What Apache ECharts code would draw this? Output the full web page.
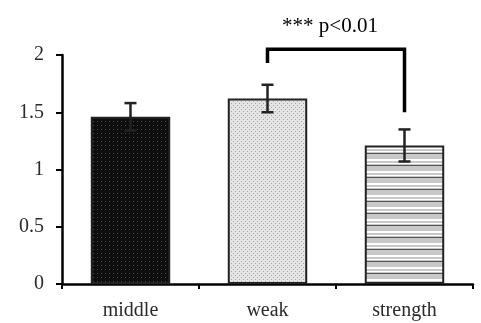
<!DOCTYPE html>
<html><head><meta charset="utf-8">
<script src="https://cdn.jsdelivr.net/npm/echarts@6/dist/echarts.min.js"></script>
<style>html,body{margin:0;padding:0;background:#fff}#c{width:481px;height:323px}</style>
</head><body><div id="c"></div>
<script>
const categories = ['middle', 'weak', 'strength'];
const means = [1.46, 1.62, 1.21];
const errors = [0.12, 0.12, 0.14];
const yTicks = [0, 0.5, 1, 1.5, 2];
const sigPair = [1, 2];
const sigLevels = [2.05, 1.93, 1.50];
const sigText = '*** p<0.01';

function pat(draw, w, h) {
  const c = document.createElement('canvas'); c.width = w; c.height = h;
  const g = c.getContext('2d'); draw(g); return c;
}
const patMiddle = pat(g => {
  g.fillStyle = '#0d0d0d'; g.fillRect(0,0,4,4);
  g.fillStyle = '#4a4a4a'; g.fillRect(1,1,1,1);
}, 4, 4);
const patWeak = pat(g => {
  g.fillStyle = '#e4e4e4'; g.fillRect(0,0,4,4);
  g.fillStyle = '#a8a8a8'; g.fillRect(1,1,1,1); g.fillRect(3,3,1,1);
}, 4, 4);
const patStrength = pat(g => {
  g.fillStyle = '#c8c8c8'; g.fillRect(0,0,4,12);
  g.fillStyle = '#fff'; g.fillRect(0,3,4,2);
  g.fillStyle = '#555'; g.fillRect(0,9,4,1);
  g.fillStyle = '#fff'; g.fillRect(0,7,4,1);
}, 4, 12);
const patterns = [patMiddle, patWeak, patStrength];

const chart = echarts.init(document.getElementById('c'), null, {renderer: 'canvas'});
const font = 'Liberation Serif';
chart.setOption({
  animation: false,
  grid: {left: 62, right: 8, top: 55, bottom: 39},
  xAxis: {
    type: 'category', data: categories,
    axisLine: {lineStyle: {color: '#000', width: 2.5}},
    axisTick: {show: true, length: 5, lineStyle: {color: '#000', width: 2}},
    axisLabel: {color: '#2a2a2a', fontFamily: font, fontSize: 20, margin: 17}
  },
  yAxis: {
    type: 'value', min: 0, max: 2, interval: 0.5,
    axisLine: {show: true, lineStyle: {color: '#000', width: 2.5}},
    axisTick: {show: true, length: 6, lineStyle: {color: '#000', width: 2}},
    splitLine: {show: false},
    axisLabel: {color: '#2a2a2a', fontFamily: font, fontSize: 20, margin: 18,
      formatter: v => yTicks.includes(v) ? String(v) : ''}
  },
  series: [
    {
      type: 'bar', barWidth: '58%',
      data: means.map((v, i) => ({value: v, itemStyle: {color: {image: patterns[i], repeat: 'repeat'}}})),
      itemStyle: {borderColor: '#222', borderWidth: 2}
    },
    {
      type: 'custom', z: 5,
      data: means.map((v, i) => [i, v - errors[i], v + errors[i]]),
      renderItem: (params, api) => {
        const lo = api.coord([api.value(0), api.value(1)]);
        const hi = api.coord([api.value(0), api.value(2)]);
        const cw = 12;
        const st = {stroke: '#222', lineWidth: 2.5};
        return {type: 'group', children: [
          {type: 'line', shape: {x1: lo[0], y1: lo[1], x2: hi[0], y2: hi[1]}, style: st},
          {type: 'line', shape: {x1: hi[0]-cw/2, y1: hi[1], x2: hi[0]+cw/2, y2: hi[1]}, style: st},
          {type: 'line', shape: {x1: lo[0]-cw/2, y1: lo[1], x2: lo[0]+cw/2, y2: lo[1]}, style: st}
        ]};
      }
    },
    {
      type: 'custom', z: 6,
      data: [[sigPair[0], sigPair[1], sigLevels[0], sigLevels[1], sigLevels[2]]],
      renderItem: (params, api) => {
        const a = api.coord([api.value(0), api.value(2)]);
        const b = api.coord([api.value(1), api.value(2)]);
        const aEnd = api.coord([api.value(0), api.value(3)]);
        const bEnd = api.coord([api.value(1), api.value(4)]);
        const st = {stroke: '#000', lineWidth: 3.5, lineJoin: 'miter'};
        return {type: 'group', children: [
          {type: 'polyline', shape: {points: [[aEnd[0], aEnd[1]], [a[0], a[1]], [b[0], b[1]], [bEnd[0], bEnd[1]]]}, style: Object.assign({fill: null}, st)},
          {type: 'text', x: (a[0]+b[0])/2 - 6, y: a[1] - 12, style: {text: sigText, font: '21px "Liberation Serif"', fill: '#000', align: 'center', verticalAlign: 'bottom'}}
        ]};
      }
    }
  ]
});
</script></body></html>
